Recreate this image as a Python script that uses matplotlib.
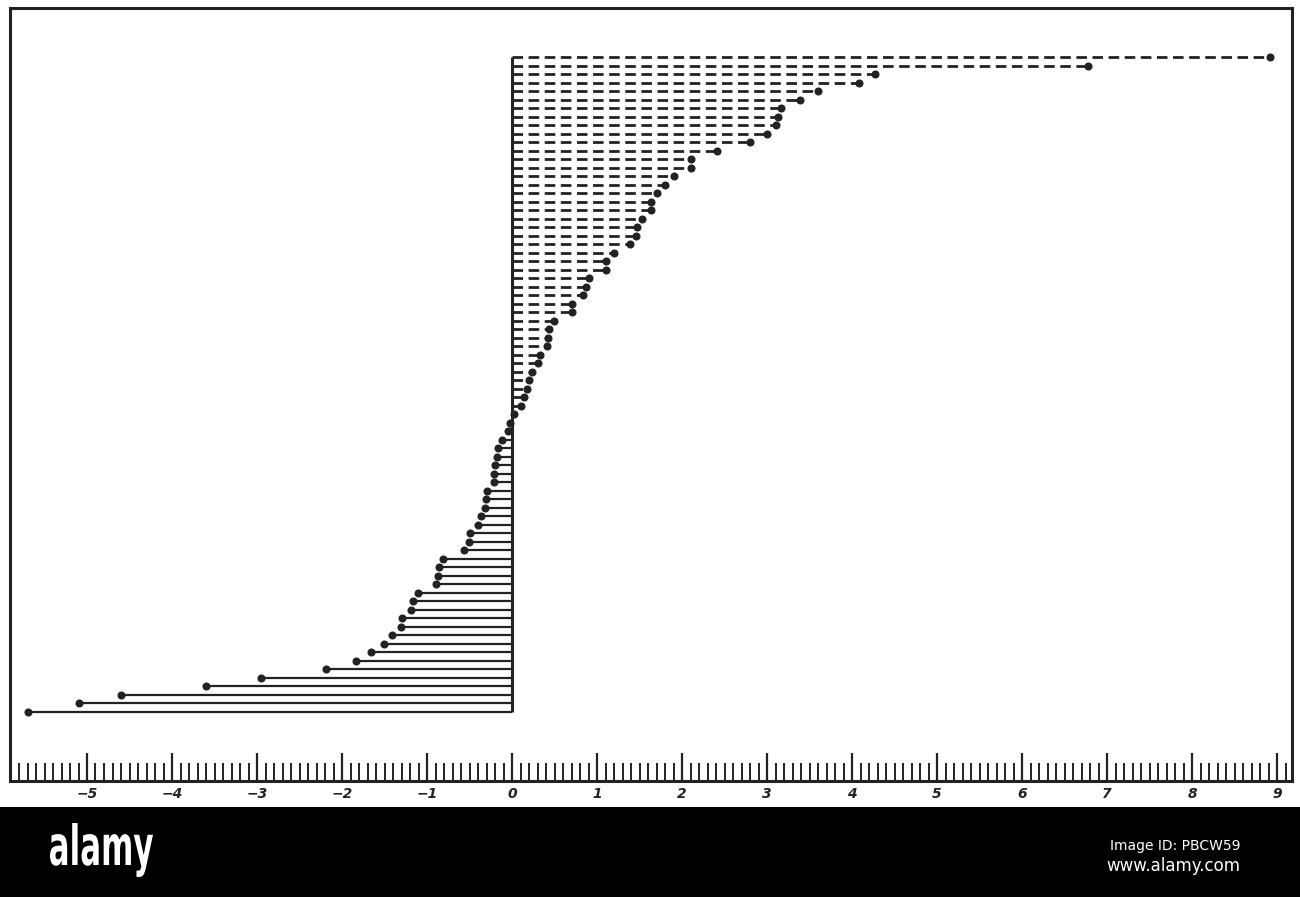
import numpy as np
import matplotlib.pyplot as plt
from matplotlib.ticker import MultipleLocator, FixedLocator
from matplotlib.patches import Rectangle, PathPatch
from matplotlib.textpath import TextPath
from matplotlib.font_manager import FontProperties
from matplotlib.transforms import Affine2D

# values read top to bottom, positive (dashed) then negative (solid)
positive = [8.92, 6.78, 4.27, 4.08, 3.60, 3.39, 3.17, 3.13, 3.10, 3.00,
            2.80, 2.41, 2.11, 2.10, 1.91, 1.80, 1.70, 1.64, 1.64, 1.53,
            1.47, 1.46, 1.39, 1.20, 1.10, 1.10, 0.90, 0.87, 0.83, 0.70,
            0.70, 0.49, 0.44, 0.42, 0.41, 0.33, 0.31, 0.24, 0.20, 0.18,
            0.14, 0.10, 0.02]
negative = [-0.02, -0.05, -0.12, -0.17, -0.18, -0.20, -0.21, -0.21, -0.30, -0.31,
            -0.32, -0.37, -0.40, -0.50, -0.51, -0.56, -0.81, -0.86, -0.87, -0.90,
            -1.11, -1.16, -1.19, -1.30, -1.31, -1.41, -1.51, -1.66, -1.83, -2.19,
            -2.95, -3.60, -4.60, -5.09, -5.69]
tick_values = list(range(-5, 10))
tick_labels = ["\u22125", "\u22124", "\u22123", "\u22122", "\u22121",
               "0", "1", "2", "3", "4", "5", "6", "7", "8", "9"]

ink = "#222222"
H = 897

fig = plt.figure(figsize=(13, 8.97), dpi=100)
ax = fig.add_axes([10 / 1300, 116 / H, 1282 / 1300, 773 / H])

n_pos = len(positive)
rows_pos = np.arange(n_pos)
rows_neg = np.arange(len(negative)) + n_pos

ax.hlines(rows_pos, 0, positive, colors=ink, linewidth=2.0,
          linestyles=(0, (3.8, 2.0)))
ax.hlines(rows_neg, 0, negative, colors=ink, linewidth=1.6)
ax.plot(positive, rows_pos, "o", color=ink, markersize=4.8)
ax.plot(negative, rows_neg, "o", color=ink, markersize=4.8)
ax.vlines(0, 0, rows_neg[-1], colors=ink, linewidth=2.2)

ax.set_xlim(-502 / 85, 780 / 85)
ax.set_ylim(85.14, -5.8)

for side in ["top", "left", "right", "bottom"]:
    ax.spines[side].set_linewidth(2.2)
    ax.spines[side].set_color(ink)

ax.yaxis.set_visible(False)
ax.xaxis.set_major_locator(FixedLocator(tick_values))
ax.xaxis.set_minor_locator(MultipleLocator(0.1))
ax.set_xticklabels(tick_labels, fontsize=10, fontweight="bold", fontstyle="italic",
                   color=ink)
ax.tick_params(axis="x", which="major", direction="in", length=20, width=1.6,
               color=ink, pad=4)
ax.tick_params(axis="x", which="minor", direction="in", length=13, width=1.4,
               color=ink)

# watermark band
fig.patches.append(Rectangle((0, 0), 1, 90 / H, transform=fig.transFigure,
                             facecolor="black", edgecolor="none", zorder=0))

# condensed "alamy" logo: squeeze a bold text path into its box (pixels)
logo = TextPath((0, 0), "alamy", size=10, prop=FontProperties(family="DejaVu Sans", weight="bold"))
ext = logo.get_extents()
sx = 103 / ext.width
sy = 42 / ext.y1
logo_tf = Affine2D().translate(-ext.x0, 0).scale(sx, sy).translate(50, H - 865)
fig.patches.append(PathPatch(logo, facecolor="white", edgecolor="none",
                             transform=logo_tf, zorder=5))

fig.text(1240 / 1300, 1 - 846 / H, "Image ID: PBCW59", color="white", fontsize=10,
         ha="right", va="center", zorder=5)
fig.text(1240 / 1300, 1 - 866 / H, "www.alamy.com", color="white", fontsize=12,
         ha="right", va="center", zorder=5)

fig.savefig("out.png", dpi=100, facecolor="white")
